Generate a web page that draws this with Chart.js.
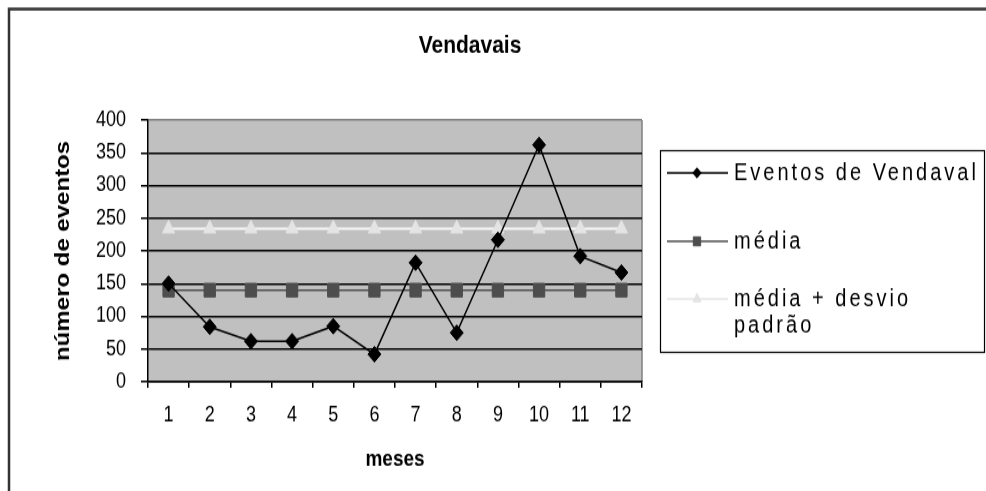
<!DOCTYPE html>
<html>
<head>
<meta charset="utf-8">
<script src="https://cdn.jsdelivr.net/npm/chart.js@4.4.1/dist/chart.umd.min.js"></script>
<style>
  html, body { margin: 0; padding: 0; background: #fff; overflow: hidden; }
  #wrap { width: 986px; height: 491px; overflow: hidden; }
  /* the reference is stretched vertically, so the canvas is too */
  #vendavaisChart { display: block; transform: scaleY(1.2005); transform-origin: 0 0; }
</style>
</head>
<body>
<div id="wrap"><canvas id="vendavaisChart" width="986" height="409"></canvas></div>
<script>
var chartTitle = 'Vendavais'
var xTitle = 'meses'
var yTitle = 'número de eventos'
var meses = ['1', '2', '3', '4', '5', '6', '7', '8', '9', '10', '11', '12']
var eventosVendaval = [150, 84, 62, 62, 85, 42, 182, 75, 217, 362, 192, 167]
var media = [140, 140, 140, 140, 140, 140, 140, 140, 140, 140, 140, 140]
var mediaDesvio = [234, 234, 234, 234, 234, 234, 234, 234, 234, 234, 234, 234]
var seriesNames = ['Eventos de Vendaval', 'média', 'média + desvio padrão']
var yMin = 0
var yMax = 400
var yStep = 50

var FONT = '"Liberation Sans", Arial, sans-serif'

// white page, grey plot area, outer frame and the title
var frameAndTitle = {
  id: 'frameAndTitle',
  beforeDraw: function(chart) {
    var ctx = chart.ctx
    var area = chart.chartArea
    ctx.save()
    ctx.fillStyle = '#fff'
    ctx.fillRect(0, 0, chart.width, chart.height)
    ctx.fillStyle = '#c0c0c0'
    ctx.fillRect(area.left, area.top, area.right - area.left, area.bottom - area.top)
    ctx.strokeStyle = '#808080'
    ctx.lineWidth = 1.5
    ctx.beginPath()
    ctx.moveTo(area.right, area.top)
    ctx.lineTo(area.right, area.bottom)
    ctx.stroke()
    ctx.strokeStyle = '#333'
    ctx.lineWidth = 2.5
    ctx.beginPath()
    ctx.moveTo(9, chart.height)
    ctx.lineTo(9, 7.5)
    ctx.lineTo(chart.width, 7.5)
    ctx.stroke()
    ctx.fillStyle = '#000'
    ctx.font = 'bold 21px ' + FONT
    ctx.textAlign = 'center'
    ctx.textBaseline = 'middle'
    ctx.fillText(chartTitle, 470, 38)
    ctx.restore()
  }
}

// boxed legend on the right, like the spreadsheet one
var boxLegend = {
  id: 'boxLegend',
  afterDraw: function(chart) {
    var ctx = chart.ctx
    var box = {left: 660, top: 125, right: 984, bottom: 293}
    var rows = [144, 201, 249]
    var lineGap = 22
    var textX = 734
    var wrapWidth = 255
    ctx.save()
    ctx.strokeStyle = '#000'
    ctx.lineWidth = 1.2
    ctx.strokeRect(box.left + 0.5, box.top + 0.5, box.right - box.left, box.bottom - box.top)
    ctx.font = '20px ' + FONT
    ctx.letterSpacing = '3px'
    ctx.textAlign = 'left'
    ctx.textBaseline = 'middle'
    chart.data.datasets.forEach(function(ds, i) {
      var y = rows[i]
      ctx.strokeStyle = ds.legendLine || ds.borderColor
      ctx.lineWidth = 1.5
      ctx.beginPath()
      ctx.moveTo(667, y)
      ctx.lineTo(728, y)
      ctx.stroke()
      ctx.fillStyle = ds.pointBackgroundColor
      ctx.strokeStyle = ds.pointBorderColor
      ctx.lineWidth = 1
      if (Chart.helpers && Chart.helpers.drawPoint) {
        Chart.helpers.drawPoint(ctx, {pointStyle: ds.pointStyle, radius: ds.pointRadius * 0.65, borderWidth: 1, rotation: 0}, 697, y)
      }
      // wrap words to the box
      var words = ds.label.split(' ')
      var line = ''
      var lines = []
      words.forEach(function(w) {
        var test = line ? line + ' ' + w : w
        if (ctx.measureText(test).width > wrapWidth && line) {
          lines.push(line)
          line = w
        } else {
          line = test
        }
      })
      lines.push(line)
      ctx.fillStyle = '#000'
      lines.forEach(function(t, j) {
        ctx.fillText(t, textX, y + j * lineGap)
      })
    })
    ctx.restore()
  }
}

var ctx = document.getElementById('vendavaisChart')
var vendavaisChart = new Chart(ctx, {
  type: 'line',
  data: {
    labels: meses,
    datasets: [
      {
        label: seriesNames[0],
        data: eventosVendaval,
        borderColor: '#000',
        borderWidth: 1.5,
        pointStyle: 'rectRot',
        pointRadius: 6.5,
        pointBackgroundColor: '#000',
        pointBorderColor: '#000',
        pointBorderWidth: 1,
        tension: 0
      },
      {
        label: seriesNames[1],
        data: media,
        borderColor: '#505050',
        borderWidth: 1.5,
        pointStyle: 'rect',
        pointRadius: 8,
        pointBackgroundColor: '#4d4d4d',
        pointBorderColor: '#4d4d4d',
        pointBorderWidth: 1,
        tension: 0
      },
      {
        label: seriesNames[2],
        data: mediaDesvio,
        borderColor: '#f8f8f8',
        legendLine: '#e6e6e6',
        borderWidth: 2,
        pointStyle: 'triangle',
        pointRadius: 7,
        pointBackgroundColor: '#e4e4e4',
        pointBorderColor: '#e4e4e4',
        pointBorderWidth: 1,
        tension: 0
      }
    ]
  },
  options: {
    responsive: false,
    animation: false,
    devicePixelRatio: 1,
    layout: {padding: {top: 100, right: 344, bottom: 0, left: 0}},
    plugins: {
      legend: {display: false},
      title: {display: false},
      tooltip: {enabled: false}
    },
    scales: {
      x: {
        offset: true,
        grid: {offset: true, drawOnChartArea: false, color: '#000', lineWidth: 1.5, tickLength: 5},
        border: {color: '#000', width: 1.5},
        ticks: {color: '#000', font: {family: FONT, size: 18}, padding: 12, maxRotation: 0, autoSkip: false},
        title: {display: true, text: xTitle, color: '#000', font: {family: FONT, size: 19, weight: 'bold'}, padding: {top: 0, bottom: 15}},
        afterFit: function(scale) { scale.height = 91 }
      },
      y: {
        min: yMin,
        max: yMax,
        ticks: {stepSize: yStep, color: '#000', font: {family: FONT, size: 18}, padding: 15},
        grid: {
          color: function(c) { return c.tick && c.tick.value === yMax ? '#808080' : '#000' },
          tickColor: '#000',
          lineWidth: 1.5,
          tickLength: 7
        },
        border: {color: '#000', width: 1.5},
        title: {display: true, text: yTitle, color: '#000', font: {family: FONT, size: 20, weight: 'bold'}, padding: {top: 51, bottom: 0}},
        afterFit: function(scale) { scale.width = 148 }
      }
    }
  },
  plugins: [frameAndTitle, boxLegend]
})
</script>
</body>
</html>
